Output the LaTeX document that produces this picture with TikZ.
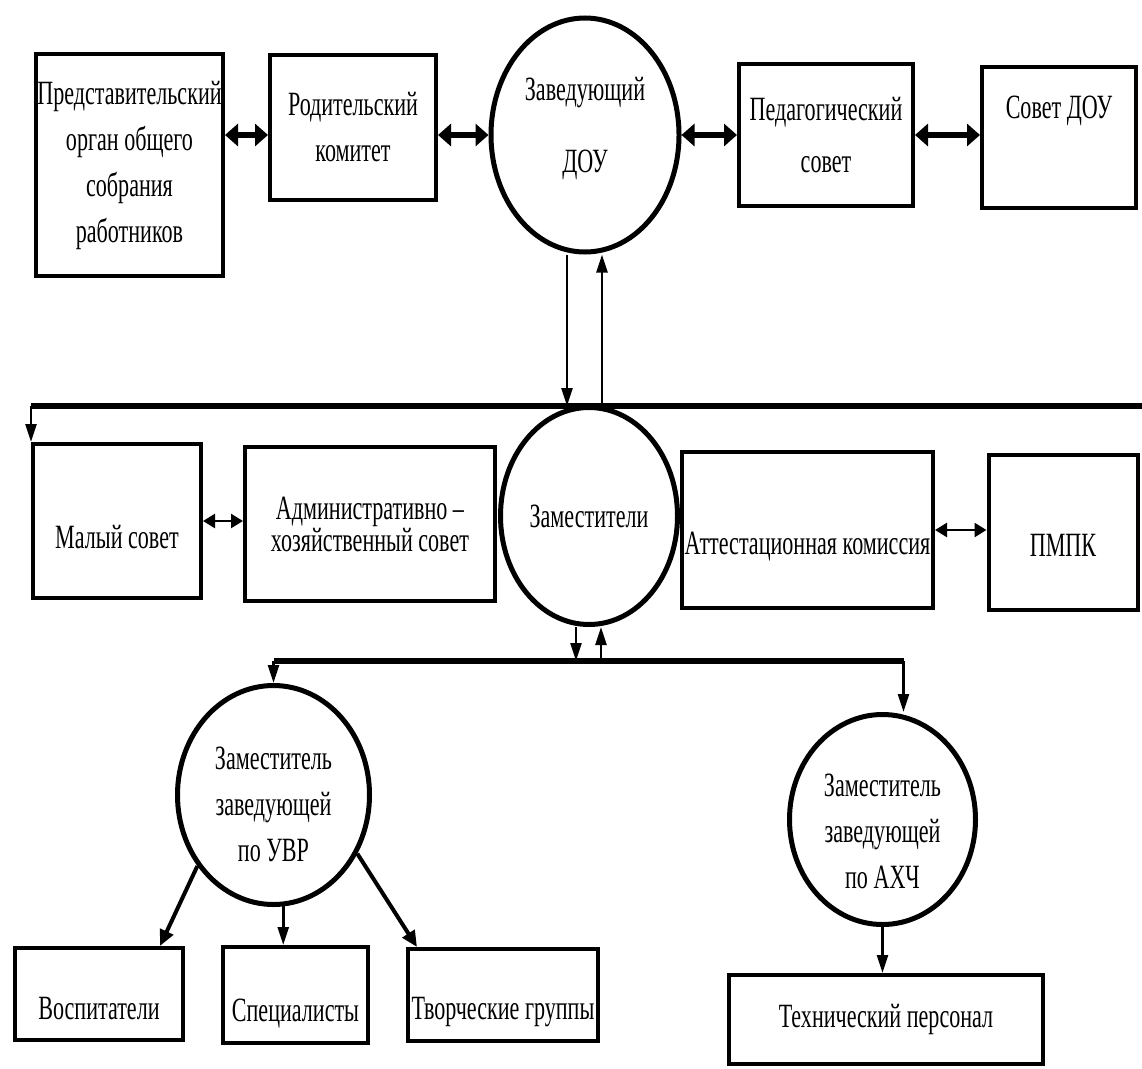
\documentclass[tikz,border=0pt]{standalone}
\usepackage{fontspec}
\setmainfont{Liberation Serif}[FakeStretch=0.65]
\usetikzlibrary{shapes.geometric,arrows.meta}

\tikzset{
  box/.style={draw,line width=4pt,rectangle,inner sep=0pt,align=center},
  oval/.style={draw,line width=5pt,ellipse,inner sep=0pt,align=center},
  fatarr/.style={line width=6pt,{Triangle[length=13pt,width=22pt]}-{Triangle[length=13pt,width=22pt]}},
  thinarr/.style={line width=2.5pt,{Triangle[length=12pt,width=14pt]}-{Triangle[length=12pt,width=14pt]}},
  vertarr/.style={line width=2.5pt,-{Triangle[length=18pt,width=11pt]}},
  botarr/.style={line width=4pt,-{Triangle[length=16pt,width=14pt]}},
  busline/.style={line width=6pt}
}
\newcommand{\lift}[2]{\raisebox{#1}[0pt][0pt]{#2}}

\begin{document}
\begin{tikzpicture}[x=1pt,y=-1pt,font=\fontsize{34}{46}\selectfont]
\useasboundingbox (0,0) rectangle (1142,1068);
% top row
\draw (129.5,165) node[box,minimum width=187pt,minimum height=222pt](predst) {Представительский\\орган общего\\собрания\\работников};
\draw (353,127.5) node[box,minimum width=166pt,minimum height=145pt](rodit) {Родительский\\комитет};
\draw (585,135) node[oval,minimum width=188pt,minimum height=234pt](zav) {\lift{1pt}{\begin{tabular}{@{}c@{}}Заведующий\\[26pt]ДОУ\end{tabular}}};
\draw (826,135) node[box,minimum width=174pt,minimum height=142pt](pedsov) {Педагогический\\[6pt]совет};
\draw (1059,137.5) node[box,minimum width=154pt,minimum height=141pt](sovet) {\lift{19pt}{Совет ДОУ}};
\draw[fatarr] (predst.east |- zav.west) -- (rodit.west |- zav.west);
\draw[fatarr] (rodit.east |- zav.west) -- (zav.west);
\draw[fatarr] (zav.east) -- (pedsov.west);
\draw[fatarr] (pedsov.east) -- (pedsov.east -| sovet.west);
% middle row
\draw (117,521) node[box,minimum width=168pt,minimum height=154pt](malsov) {\lift{-27pt}{Малый совет}};
\draw (370,524) node[box,minimum width=250pt,minimum height=154pt](admin) {Административно –\\[-14pt]хозяйственный совет};
\draw (589,516) node[oval,minimum width=177pt,minimum height=217pt](zam) {Заместители};
\draw (807.5,530) node[box,minimum width=251pt,minimum height=156pt](attest) {\lift{-24pt}{Аттестационная комиссия}};
\draw (1063,532) node[box,minimum width=149pt,minimum height=155pt](pmpk) {\lift{-24pt}{ПМПК}};
\draw[thinarr] (malsov.east) -- (malsov.east -| admin.west);
\draw[thinarr] (attest.east) -- (attest.east -| pmpk.west);
\coordinate (topbus) at (31,406);
\coordinate (topend) at (1142,406);
\draw[busline] (topend) -- (topbus);
\draw[vertarr] (topbus) -- (topbus |- malsov.north);
\draw[vertarr] ([xshift=-18pt]zav.south) -- ([xshift=-18pt]zav.south |- topbus);
\draw[vertarr] ([xshift=17pt]zav.south |- topbus) -- ([xshift=17pt]zav.south);
% bottom part
\draw (273.5,795) node[oval,minimum width=192pt,minimum height=219pt](uvr) {\lift{-18pt}{\begin{tabular}{@{}c@{}}Заместитель\\заведующей\\по УВР\end{tabular}}};
\draw (882.5,819.5) node[oval,minimum width=186pt,minimum height=210pt](ahch) {\lift{-20pt}{\begin{tabular}{@{}c@{}}Заместитель\\заведующей\\по АХЧ\end{tabular}}};
\draw (99,994) node[box,minimum width=168pt,minimum height=92pt](vosp) {\lift{-25pt}{Воспитатели}};
\draw (295.5,995) node[box,minimum width=145pt,minimum height=96pt](spec) {\lift{-26pt}{Специалисты}};
\draw (503,995) node[box,minimum width=190pt,minimum height=92pt](tvor) {\lift{-24pt}{Творческие группы}};
\draw (886,1019.5) node[box,minimum width=314pt,minimum height=89pt](tech) {Технический персонал};
\coordinate (lowbus) at (589,661);
\draw[busline] (lowbus -| uvr.north) -- ([xshift=21pt]ahch.north |- lowbus);
\draw[vertarr] (lowbus -| uvr.north) -- (uvr.north);
\draw[vertarr] ([xshift=21pt]ahch.north |- lowbus) -- ([xshift=21pt]ahch.north);
\draw[vertarr] ([xshift=-13pt]zam.south) -- ([xshift=-13pt]zam.south |- lowbus);
\draw[vertarr] ([xshift=12pt]zam.south |- lowbus) -- ([xshift=12pt]zam.south);
\draw[botarr] (uvr.-137) -- ([xshift=-25pt]vosp.north east);
\draw[vertarr] (uvr.-85) -- (uvr.-85 |- spec.north);
\draw[botarr] (uvr.-35) -- ([xshift=11pt]tvor.north west);
\draw[vertarr] (ahch.south) -- (ahch.south |- tech.north);
\end{tikzpicture}
\end{document}
